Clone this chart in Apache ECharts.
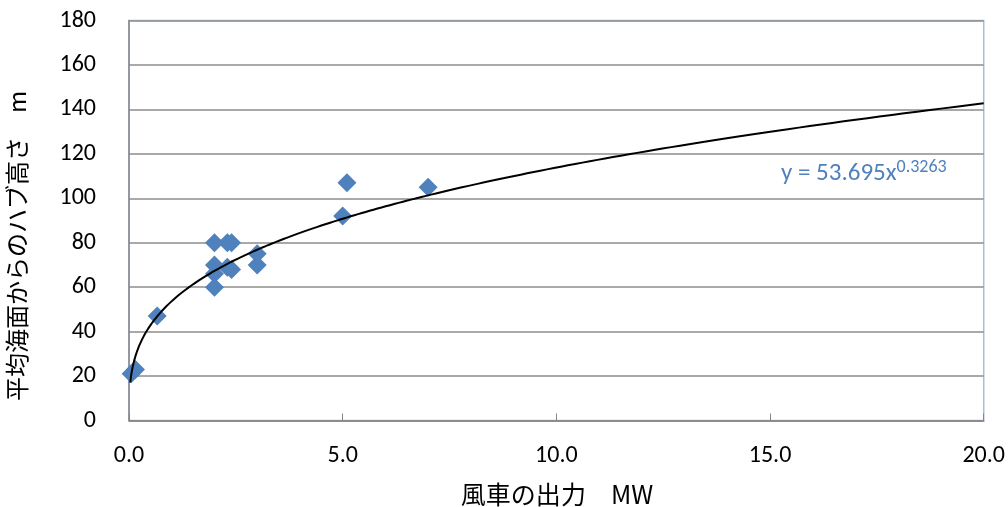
<!DOCTYPE html>
<html>
<head>
<meta charset="utf-8">
<script src="https://cdn.jsdelivr.net/npm/echarts@6/dist/echarts.min.js"></script>
<style>html,body{margin:0;padding:0;background:#fff}#c{width:1008px;height:507px}</style>
</head>
<body>
<div id="c"></div>
<script>
// Data
const powerMW = [0.05, 0.15, 0.66, 2.0, 2.0, 2.0, 2.0, 2.3, 2.4, 2.3, 2.4, 3.0, 3.0, 5.0, 5.1, 7.0];
const hubHeight = [21, 23, 47, 80, 70, 66, 60, 80, 80, 69, 68, 75, 70, 92, 107, 105];
const yTicks = [0, 20, 40, 60, 80, 100, 120, 140, 160, 180];
const xTicks = [0, 5, 10, 15, 20];
// Power trendline coefficients shown on the chart
const trendA = 53.695;
const trendB = 0.3263;
const trendXStart = 0.03;
const trendXEnd = 20;

const trendLine = [];
const steps = 400;
for (let i = 0; i <= steps; i++) {
  const t = i / steps;
  const x = trendXStart * Math.pow(trendXEnd / trendXStart, t);
  trendLine.push([x, trendA * Math.pow(x, trendB)]);
}
const points = powerMW.map((x, i) => [x, hubHeight[i]]);

const fontLatin = 'Carlito, "Open Sans", "Noto Sans", sans-serif';
const fontJP = '"Noto Sans CJK JP", sans-serif';

const chart = echarts.init(document.getElementById('c'), null, {renderer: 'canvas'});
chart.setOption({
  animation: false,
  backgroundColor: '#ffffff',
  grid: {left: 129, right: 24, top: 20.5, bottom: 86.5, show: true, borderColor: '#A7BEDD', borderWidth: 1.5, backgroundColor: 'transparent'},
  xAxis: {
    type: 'value', min: xTicks[0], max: xTicks[xTicks.length - 1], interval: 5,
    axisLine: {show: true, lineStyle: {color: '#868686', width: 1.5}},
    axisTick: {show: true, inside: true, length: 7, lineStyle: {color: '#868686', width: 1}},
    splitLine: {show: false},
    axisLabel: {color: '#000', fontSize: 24, fontFamily: fontLatin, margin: 23, formatter: v => v.toFixed(1)}
  },
  yAxis: {
    type: 'value', min: yTicks[0], max: yTicks[yTicks.length - 1], interval: 20,
    axisLine: {show: true, lineStyle: {color: '#868686', width: 1.5}},
    axisTick: {show: false},
    splitLine: {show: true, lineStyle: {color: '#8C8C8C', width: 1.5}},
    axisLabel: {color: '#000', fontSize: 24, fontFamily: fontLatin, margin: 33}
  },
  graphic: [
    {type: 'text', x: 17, y: 246, rotation: Math.PI / 2,
     style: {text: '平均海面からのハブ高さ　m', fill: '#000', font: '24px ' + fontJP, align: 'center', verticalAlign: 'middle'}},
    {type: 'text', x: 557, y: 494,
     style: {text: '風車の出力　MW', fill: '#000', font: '25px ' + fontJP, align: 'center', verticalAlign: 'middle'}},
    {type: 'text', x: 781, y: 174,
     style: {rich: {b: {fill: '#4F81BD', fontSize: 25, fontFamily: fontLatin}, s: {fill: '#4F81BD', fontSize: 18, fontFamily: fontLatin, verticalAlign: 'top', padding: [0,0,14,0]}},
      text: '{b|y = 53.695x}{s|0.3263}', verticalAlign: 'middle'}}
  ],
  series: [
    {type: 'scatter', data: points, symbol: 'diamond', symbolSize: 19,
     itemStyle: {color: '#4F81BD', opacity: 1, borderWidth: 0}, z: 3},
    {type: 'line', data: trendLine, showSymbol: false, symbol: 'none', smooth: false,
     lineStyle: {color: '#000', width: 2}, z: 4}
  ]
});
</script>
</body>
</html>
